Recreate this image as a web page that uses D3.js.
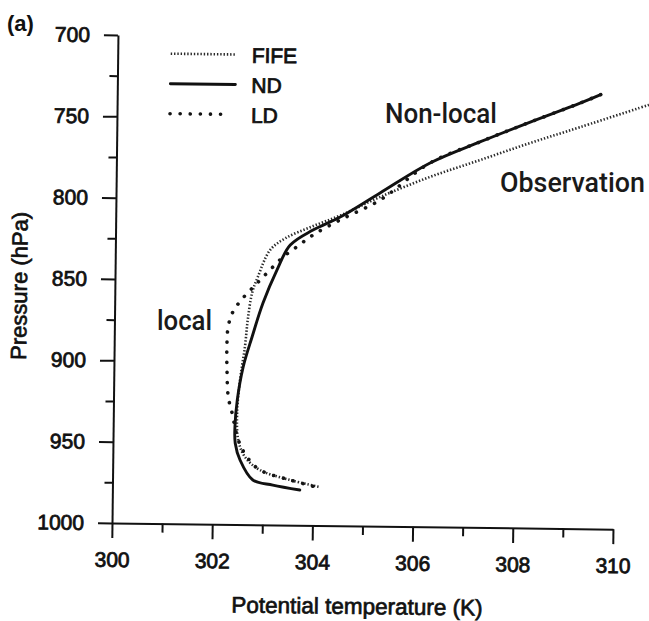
<!DOCTYPE html>
<html>
<head>
<meta charset="utf-8">
<script src="https://cdn.jsdelivr.net/npm/d3@7"></script>
<style>
  html, body { margin: 0; padding: 0; background: #fff; }
  svg { display: block; }
</style>
</head>
<body>
<svg id="chart" width="649" height="621"></svg>
<script>
// Potential temperature profiles (K) against pressure (hPa)
const tempTicks = [300, 302, 304, 306, 308, 310];
const tempMinor = [301, 303, 305, 307, 309];
const presTicks = [700, 750, 800, 850, 900, 950, 1000];
const presMinor = [725, 775, 825, 875, 925, 975];

// Observed profile (FIFE)
const fifeTemp = [310.8, 309.25, 308.25, 307.26, 306.26, 305.27, 304.5, 303.9, 303.4, 303.09, 302.85, 302.74, 302.66, 302.61, 302.52, 302.47, 302.5, 302.64, 302.94, 303.54, 304.14];
const fifePres = [737, 753.1, 763.3, 774.1, 784.9, 797.6, 809, 816.5, 823.5, 831, 847.7, 857.6, 874.2, 890.8, 911.1, 931.5, 948, 958.5, 966.3, 972.2, 976.3];

// Non-local diffusion (ND)
const ndTemp = [309.65, 309.24, 308.25, 307.25, 306.26, 305.27, 304.48, 303.94, 303.49, 303.23, 302.96, 302.75, 302.58, 302.47, 302.43, 302.44, 302.54, 302.8, 303.2, 303.74];
const ndPres = [733, 738.4, 750.4, 763, 776.3, 795.1, 810.2, 818.4, 827.8, 843.3, 863.7, 884.6, 903.1, 923.5, 940, 950, 960.3, 972.5, 975.5, 978.3];

// Local diffusion (LD)
const ldTemp = [309.65, 309.24, 308.25, 307.25, 306.26, 305.27, 304.48, 303.94, 303.62, 303.35, 303.09, 302.84, 302.56, 302.36, 302.27, 302.25, 302.26, 302.29, 302.37, 302.5, 302.68, 302.94, 303.54, 304.08];
const ldPres = [733, 738.4, 750.4, 763, 776.3, 799.5, 812, 821.5, 828.9, 835.2, 843.3, 851.4, 860.7, 869.4, 878.7, 891, 906.9, 921.7, 931.5, 948, 958.5, 966.3, 972.2, 976.5];

const legendNames = ["FIFE", "ND", "LD"];
const annotations = ["Non-local", "Observation", "local"];

const svg = d3.select("#chart");
const FONT = '"Liberation Sans", Arial, Helvetica, sans-serif';
const INK = "#111";

const x = d3.scaleLinear().domain([300, 310]).range([112, 613]);
const y = d3.scaleLinear().domain([700, 1000]).range([35, 523]);

// the whole plot sits slightly tilted
const plot = svg.append("g").attr("transform", "rotate(0.7,112,523)");

// y axis: major ticks with labels, minor ticks without
plot.append("g").attr("transform", `translate(${x(300)},0)`)
  .call(d3.axisLeft(y).tickValues(presTicks).tickSize(14).tickSizeOuter(0).tickPadding(14).tickFormat(d3.format("d")));
plot.append("g").attr("transform", `translate(${x(300)},0)`)
  .call(d3.axisLeft(y).tickValues(presMinor).tickSize(8).tickSizeOuter(0).tickFormat(""))
  .select(".domain").remove();

// x axis
plot.append("g").attr("transform", `translate(0,${y(1000)})`)
  .call(d3.axisBottom(x).tickValues(tempTicks).tickSize(15).tickSizeOuter(0).tickPadding(14).tickFormat(d3.format("d")));
plot.append("g").attr("transform", `translate(0,${y(1000)})`)
  .call(d3.axisBottom(x).tickValues(tempMinor).tickSize(9).tickSizeOuter(0).tickFormat(""))
  .select(".domain").remove();

plot.selectAll(".domain, .tick line").attr("stroke", INK).attr("stroke-width", 2);
plot.selectAll(".tick text")
  .attr("font-size", 21).attr("fill", INK)
  .attr("stroke", INK).attr("stroke-width", 0.8)
  .style("font-family", FONT);

// axis titles
plot.append("text")
  .attr("transform", `translate(24,${(y(700) + y(1000)) / 2 + 8}) rotate(-90)`)
  .attr("text-anchor", "middle").attr("font-family", FONT).attr("font-size", 22)
  .attr("fill", INK).attr("stroke", INK).attr("stroke-width", 0.7)
  .text("Pressure (hPa)");
plot.append("text")
  .attr("x", 358).attr("y", 611)
  .attr("text-anchor", "middle").attr("font-family", FONT).attr("font-size", 22.5)
  .attr("fill", INK).attr("stroke", INK).attr("stroke-width", 0.7)
  .text("Potential temperature (K)");

// profile curves
const line = d3.line()
  .x(d => x(d[0])).y(d => y(d[1]))
  .curve(d3.curveCatmullRom.alpha(0.5));

const zip = (a, b) => a.map((v, i) => [v, b[i]]);

const styles = {
  FIFE: { width: 2.6, dash: "1.4,1.9", color: "#2a2a2a", cap: "butt" },
  ND:   { width: 2.9, dash: null, color: INK, cap: "round" },
  LD:   { width: 3.6, dash: "0.1,10", color: "#151515", cap: "round" }
};

const series = [
  { name: "FIFE", pts: zip(fifeTemp, fifePres) },
  { name: "ND", pts: zip(ndTemp, ndPres) },
  { name: "LD", pts: zip(ldTemp, ldPres) }
];

series.forEach(s => {
  const st = styles[s.name];
  plot.append("path")
    .datum(s.pts)
    .attr("d", line)
    .attr("fill", "none")
    .attr("stroke", st.color)
    .attr("stroke-width", st.width)
    .attr("stroke-linecap", st.cap)
    .attr("stroke-linejoin", "round")
    .attr("stroke-dasharray", st.dash);
});

// legend
const legend = plot.append("g");
legendNames.forEach((name, i) => {
  const st = styles[name];
  const ly = 53 + i * 30;
  legend.append("line")
    .attr("x1", 165).attr("x2", name === "LD" ? 222 : 230)
    .attr("y1", ly).attr("y2", ly)
    .attr("stroke", st.color).attr("stroke-width", st.width)
    .attr("stroke-linecap", st.cap)
    .attr("stroke-dasharray", st.dash);
  legend.append("text")
    .attr("x", 246).attr("y", ly + 8)
    .attr("font-family", FONT).attr("font-size", 21)
    .attr("fill", INK).attr("stroke", INK).attr("stroke-width", 0.8)
    .text(name);
});

// panel label
svg.append("text")
  .attr("x", 7).attr("y", 31)
  .attr("font-family", FONT).attr("font-size", 22).attr("font-weight", "bold")
  .attr("fill", INK)
  .text("(a)");

// curve annotations
const annPos = [
  { x: 385, y: 123, w: 112 },
  { x: 500, y: 192, w: 145 },
  { x: 157, y: 330, w: 55 }
];
annotations.forEach((t, i) => {
  svg.append("text")
    .attr("x", annPos[i].x).attr("y", annPos[i].y)
    .attr("font-family", "Roboto, 'Open Sans', sans-serif")
    .attr("font-size", 27)
    .attr("font-weight", 500)
    .attr("fill", "#1a1a1a")
    .attr("textLength", annPos[i].w)
    .attr("lengthAdjust", "spacingAndGlyphs")
    .text(t);
});
</script>
</body>
</html>
